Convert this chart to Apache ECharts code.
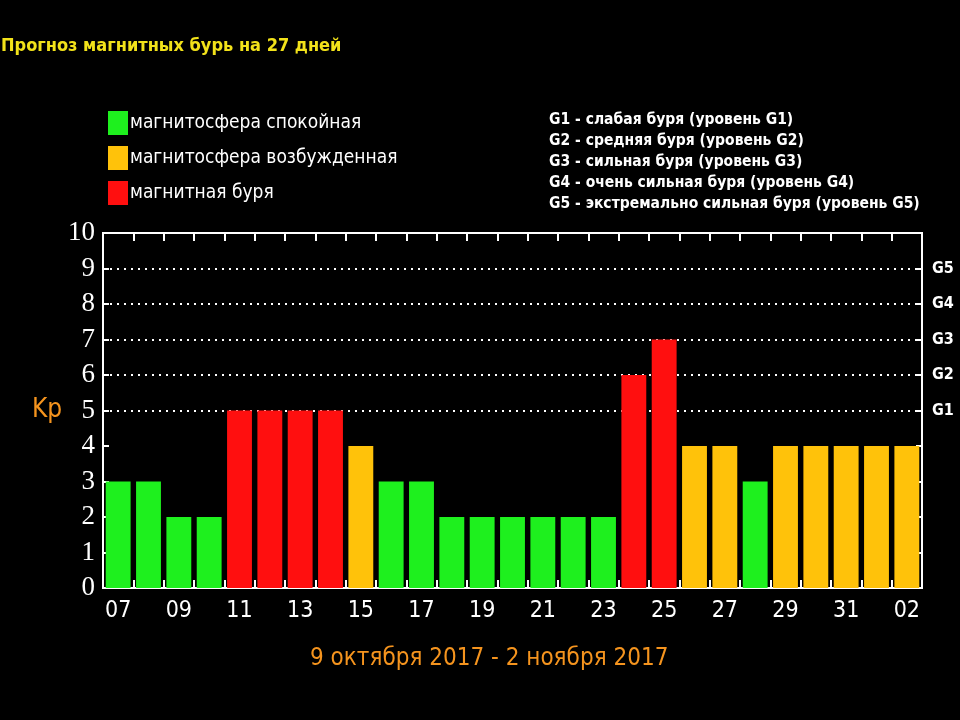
<!DOCTYPE html>
<html>
<head>
<meta charset="utf-8">
<script src="https://cdn.jsdelivr.net/npm/echarts@6/dist/echarts.min.js"></script>
<style>html,body{margin:0;padding:0;background:#000;}#c{width:960px;height:720px;}</style>
</head>
<body>
<div id="c"></div>
<script>
const days = ['07','08','09','10','11','12','13','14','15','16','17','18','19','20','21','22','23','24','25','26','27','28','29','30','31','01','02'];
const kp = [3,3,2,2,5,5,5,5,4,3,3,2,2,2,2,2,2,6,7,4,4,3,4,4,4,4,4];
const legendNames = ['магнитосфера спокойная','магнитосфера возбужденная','магнитная буря'];
const gLevels = [5,6,7,8,9];
const gLabels = ['G1','G2','G3','G4','G5'];
const gDescriptions = [
  'G1 - слабая буря (уровень G1)',
  'G2 - средняя буря (уровень G2)',
  'G3 - сильная буря (уровень G3)',
  'G4 - очень сильная буря (уровень G4)',
  'G5 - экстремально сильная буря (уровень G5)'
];
const yTicks = [0,1,2,3,4,5,6,7,8,9,10];

const colors = ['#1ef01e', '#ffc20a', '#ff0f0f'];
function cls(v){ return v <= 3 ? 0 : (v === 4 ? 1 : 2); }
const seriesData = [0,1,2].map(c => kp.map(v => cls(v) === c ? v : '-'));
const splitColors = yTicks.map(t => gLevels.indexOf(t) >= 0 ? '#ffffff' : 'rgba(0,0,0,0)');

const chart = echarts.init(document.getElementById('c'));
chart.setOption({
  backgroundColor: '#000',
  animation: false,
  title: [
    { text: 'Прогноз магнитных бурь на 27 дней', left: -4, top: 32,
      textStyle: { color: '#f2e21a', fontSize: 18, fontWeight: 'bold', fontFamily: 'Liberation Sans Narrow, DejaVu Sans Condensed, sans-serif' } },
    { text: gDescriptions.join('\n'), left: 544, top: 104,
      textStyle: { color: '#fff', fontSize: 15.5, lineHeight: 21, fontWeight: 'bold', fontFamily: 'DejaVu Sans Condensed, sans-serif' } },
    { text: '9 октября 2017 - 2 ноября 2017', left: 305, top: 642,
      textStyle: { color: '#f5941e', fontSize: 24, fontWeight: 'normal', fontFamily: 'DejaVu Sans Condensed, sans-serif' } }
  ],
  legend: {
    data: legendNames, orient: 'vertical', left: 103, top: 106, icon: 'rect',
    itemWidth: 20, itemHeight: 24, itemGap: 11,
    textStyle: { color: '#fff', fontSize: 19, fontFamily: 'DejaVu Sans Condensed, sans-serif', padding: [0, 0, 0, -3] },
    selectedMode: false
  },
  grid: { left: 103, right: 38, top: 233, bottom: 132, show: true, borderColor: '#fff', borderWidth: 2 },
  xAxis: [
    { type: 'category', data: days, position: 'bottom',
      axisLine: { show: true, onZero: false, lineStyle: { color: '#fff', width: 2 } },
      axisTick: { show: true, inside: true, interval: 0, length: 8, lineStyle: { color: '#ffffff', width: 2 } },
      axisLabel: { interval: 1, color: '#fff', fontSize: 23, margin: 12, fontFamily: 'DejaVu Sans Condensed, sans-serif' } },
    { type: 'category', data: days, position: 'top',
      axisLine: { show: true, onZero: false, lineStyle: { color: '#fff', width: 2 } },
      axisTick: { show: true, inside: true, interval: 0, length: 8, lineStyle: { color: '#ffffff', width: 2 } },
      axisLabel: { show: false } }
  ],
  yAxis: [
    { type: 'value', min: 0, max: 10, interval: 1, position: 'left',
      name: 'Kp', nameLocation: 'middle', nameRotate: 0, nameGap: 33,
      nameTextStyle: { color: '#f5941e', fontSize: 26, fontFamily: 'DejaVu Sans Condensed, sans-serif' },
      axisLine: { show: false, onZero: false },
      axisTick: { show: true, inside: true, length: 6, lineStyle: { color: '#fff', width: 2 } },
      axisLabel: { color: '#fff', fontSize: 27, margin: 8, fontFamily: 'Liberation Serif, serif' },
      splitLine: { show: true, lineStyle: { color: splitColors, type: [2, 5], width: 2 } } },
    { type: 'value', min: 0, max: 10, interval: 1, position: 'right',
      axisLine: { show: false, onZero: false },
      axisTick: { show: true, inside: true, length: 6, lineStyle: { color: '#fff', width: 2 } },
      axisLabel: { color: '#fff', fontSize: 16, fontWeight: 'bold', margin: 10, fontFamily: 'DejaVu Sans Condensed, sans-serif',
        formatter: v => { const i = gLevels.indexOf(v); return i >= 0 ? gLabels[i] : ''; } },
      splitLine: { show: false } }
  ],
  series: [0,1,2].map(c => ({
    name: legendNames[c], type: 'bar', stack: 'kp', data: seriesData[c],
    barWidth: '82%', itemStyle: { color: colors[c] }
  }))
});
</script>
</body>
</html>
